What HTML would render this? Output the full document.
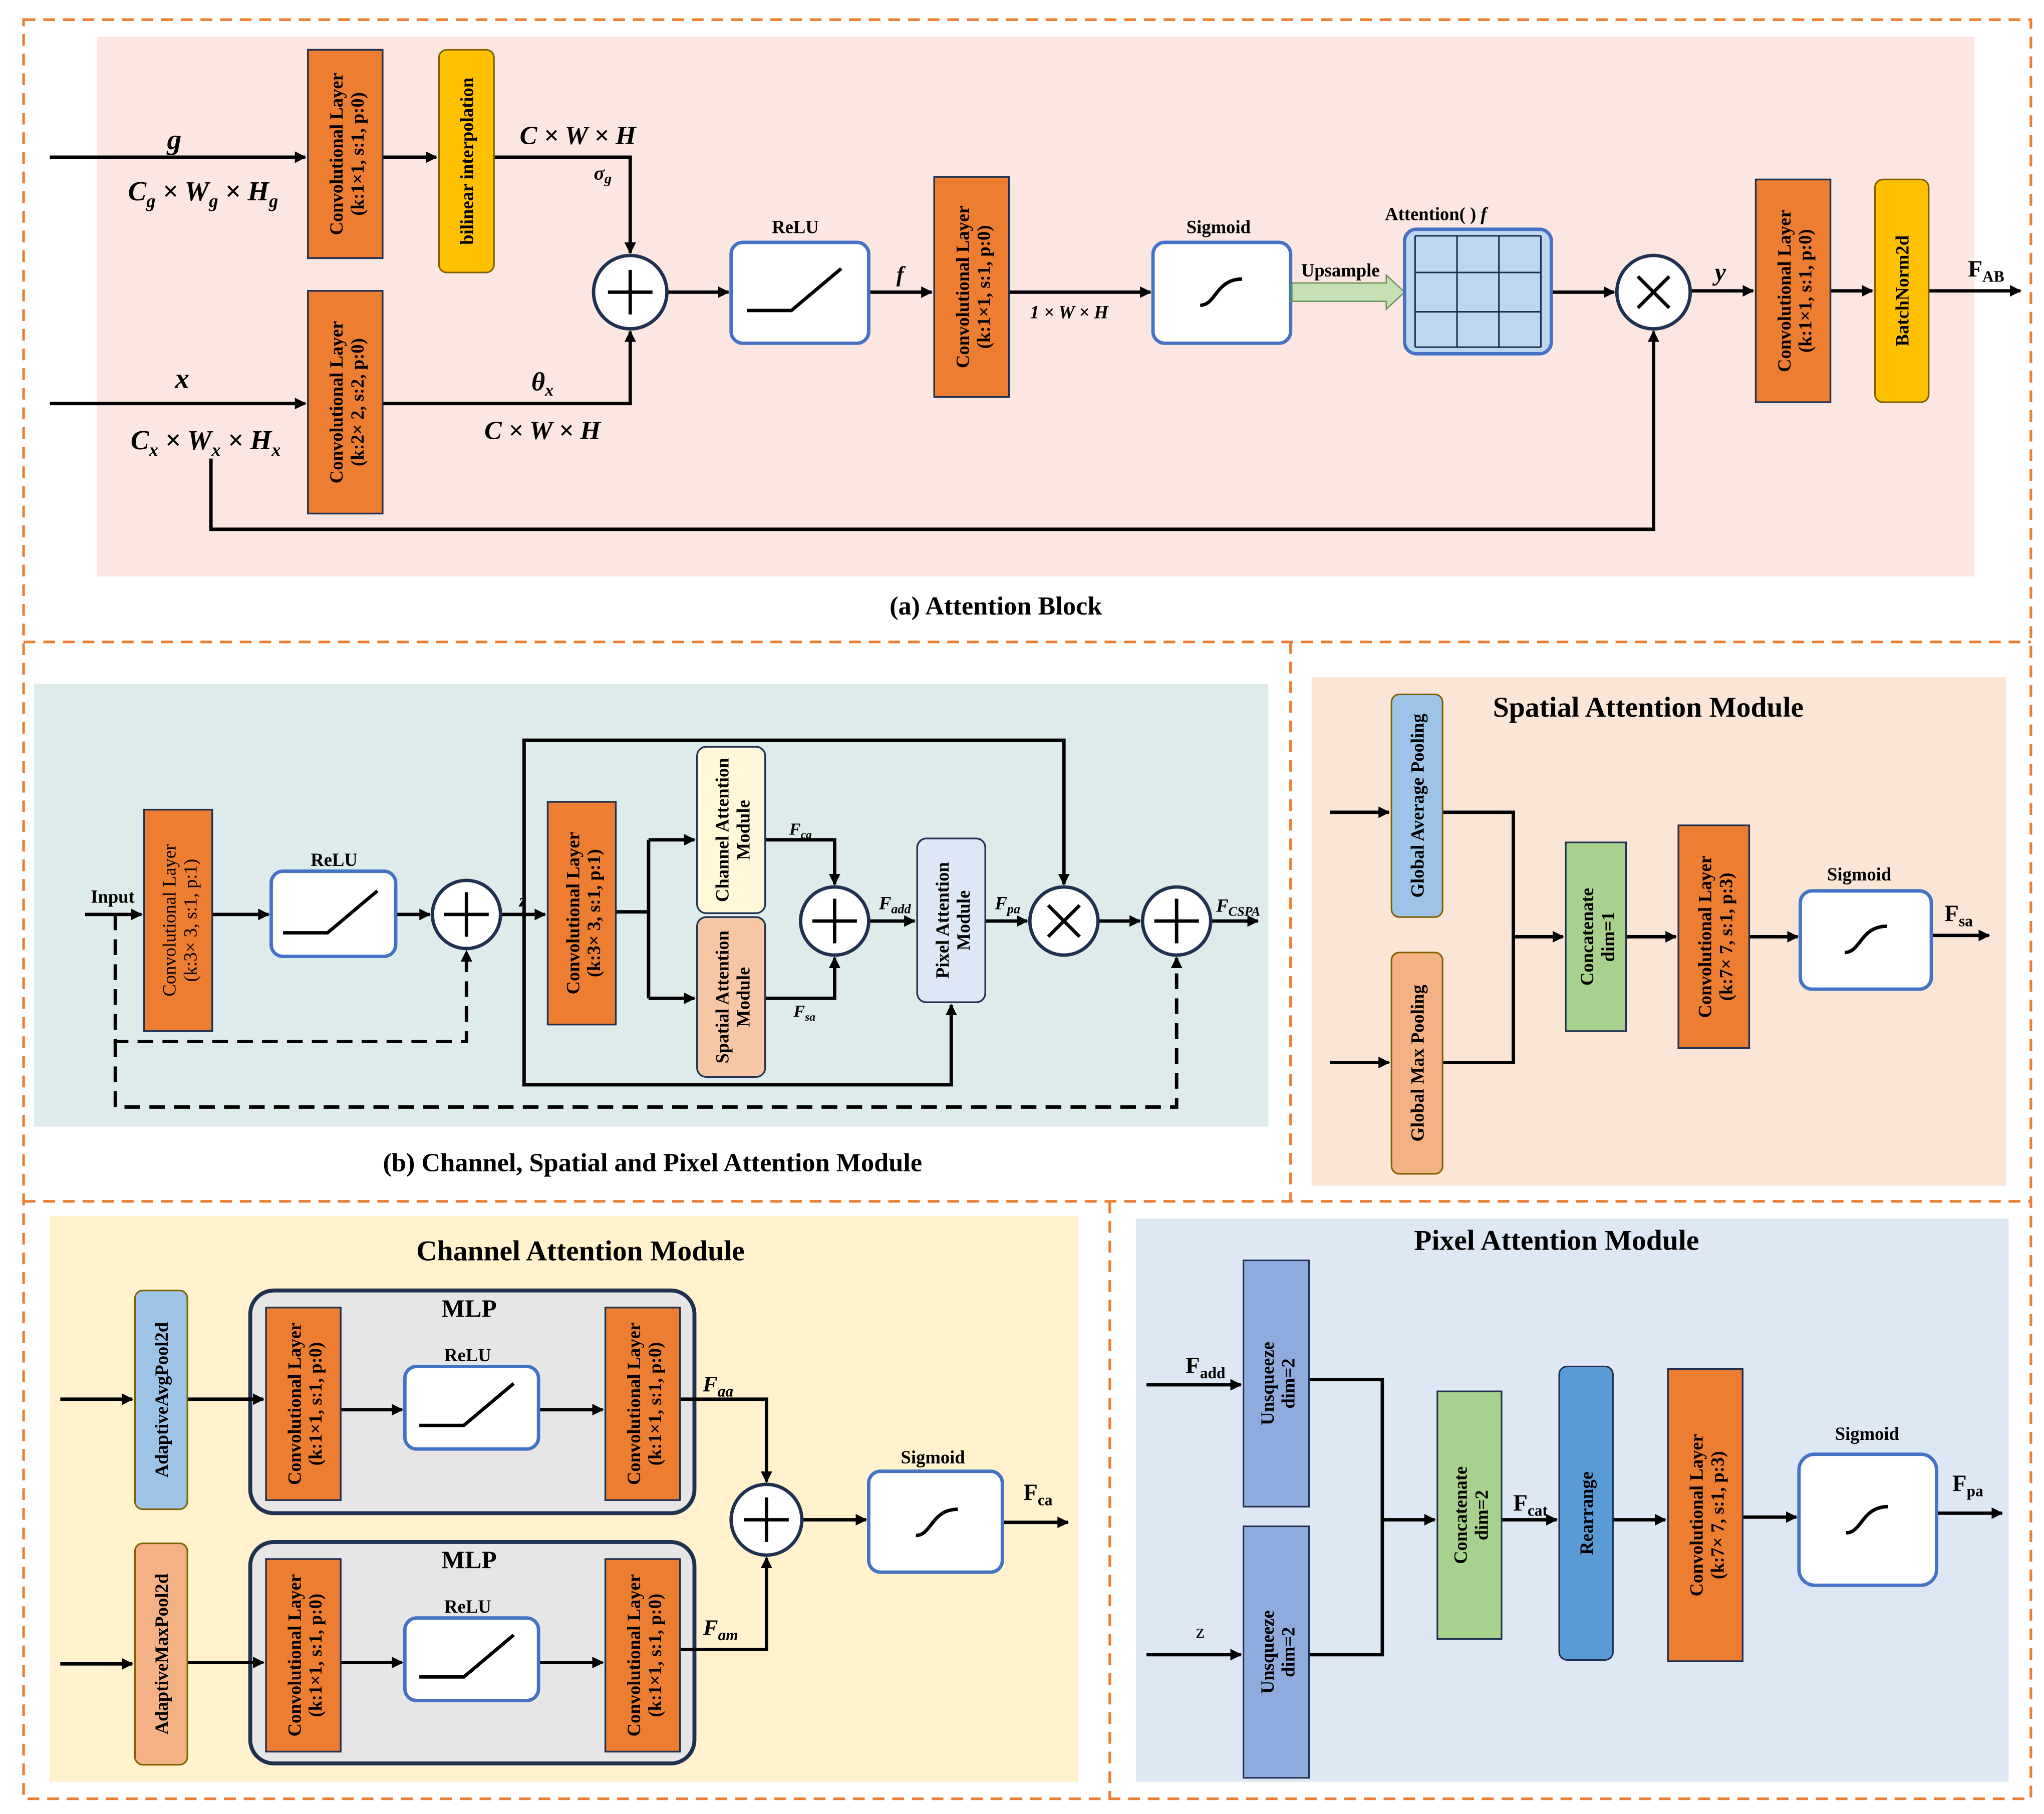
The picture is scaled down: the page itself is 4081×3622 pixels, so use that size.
<!DOCTYPE html>
<html><head><meta charset="utf-8"><style>
html,body{margin:0;padding:0;background:#fff}
svg{display:block}
text{font-family:"Liberation Serif",serif;font-weight:bold;fill:#000}
.bt{font-size:14px}
.it{font-style:italic}
.ln{stroke:#000;stroke-width:2.6;fill:none}
.dl{stroke:#000;stroke-width:2.6;fill:none;stroke-dasharray:12 7}
.or{fill:#ed7d31;stroke:#1f3050;stroke-width:1.3}
.bx{fill:#fff;stroke:#4472c4;stroke-width:2.6}
.cir{fill:#fff;stroke:#1f3050;stroke-width:2.6}
.od{fill:none;stroke:#ed7d31;stroke-width:2;stroke-dasharray:9 6}
</style></head><body>
<svg width="4081" height="3622" viewBox="0 0 1560 1384.6" preserveAspectRatio="none" xmlns="http://www.w3.org/2000/svg">
<defs>
<marker id="a" viewBox="0 0 10 10" refX="9" refY="5" markerWidth="3.4" markerHeight="3.4" orient="auto"><path d="M0,0 L10,5 L0,10 z" fill="#000"/></marker>
<g id="sig"><path d="M-16,10 C-4,10 -4,-10 16,-10" fill="none" stroke="#000" stroke-width="2.6"/></g>
<g id="relu"><path d="M-42,12 L-8,12 L30,-20" fill="none" stroke="#000" stroke-width="2.6"/></g>
<g id="plus"><path d="M-17,0 H17 M0,-17 V17" stroke="#000" stroke-width="2.6"/></g>
<g id="times"><path d="M-12,-12 L12,12 M12,-12 L-12,12" stroke="#000" stroke-width="2.6"/></g>
</defs>

<rect class="od" x="18" y="15" width="1532" height="1358"/>
<line class="od" x1="18" y1="490" x2="1550" y2="490"/>
<line class="od" x1="18" y1="917" x2="1550" y2="917"/>
<line class="od" x1="985" y1="490" x2="985" y2="917"/>
<line class="od" x1="847" y1="917" x2="847" y2="1373"/>

<!-- ===== (a) ===== -->
<rect x="74" y="28" width="1433" height="412" fill="#fbe6e1"/>
<text x="760" y="469" font-size="20" text-anchor="middle">(a) Attention Block</text>

<path class="ln" d="M38,120 H233" marker-end="url(#a)"/>
<path class="ln" d="M292,120 H333" marker-end="url(#a)"/>
<path class="ln" d="M377,120 H481 V193" marker-end="url(#a)"/>
<path class="ln" d="M38,308 H233" marker-end="url(#a)"/>
<path class="ln" d="M292,308 H481 V253" marker-end="url(#a)"/>
<path class="ln" d="M161,350 V404 H1262 V253" marker-end="url(#a)"/>
<path class="ln" d="M509,223 H556" marker-end="url(#a)"/>
<path class="ln" d="M663,223 H711" marker-end="url(#a)"/>
<path class="ln" d="M770,223 H878" marker-end="url(#a)"/>
<path class="ln" d="M1184,223 H1232" marker-end="url(#a)"/>
<path class="ln" d="M1290,222 H1338" marker-end="url(#a)"/>
<path class="ln" d="M1397,222 H1429" marker-end="url(#a)"/>
<path class="ln" d="M1472,222 H1542" marker-end="url(#a)"/>

<rect class="or" x="235" y="38" width="57" height="159"/>
<text class="bt" transform="translate(263.5,117.5) rotate(-90)" text-anchor="middle"><tspan x="0" dy="-2">Convolutional Layer</tspan><tspan x="0" dy="16">(k:1×1, s:1, p:0)</tspan></text>
<rect x="335" y="38" width="42" height="170" rx="6" fill="#ffc000" stroke="#7f6000" stroke-width="1.2"/>
<text class="bt" transform="translate(356,123) rotate(-90)" text-anchor="middle" dy="5">bilinear interpolation</text>
<rect class="or" x="235" y="222" width="57" height="170"/>
<text class="bt" transform="translate(263.5,307) rotate(-90)" text-anchor="middle"><tspan x="0" dy="-2">Convolutional Layer</tspan><tspan x="0" dy="16">(k:2× 2, s:2, p:0)</tspan></text>

<circle class="cir" cx="481" cy="223" r="28"/><use href="#plus" x="481" y="223"/>
<rect class="bx" x="558" y="185" width="105" height="77" rx="9"/><use href="#relu" x="612" y="225"/>
<text x="607" y="178" font-size="14" text-anchor="middle">ReLU</text>
<rect class="or" x="713" y="135" width="57" height="168"/>
<text class="bt" transform="translate(741.5,219) rotate(-90)" text-anchor="middle"><tspan x="0" dy="-2">Convolutional Layer</tspan><tspan x="0" dy="16">(k:1×1, s:1, p:0)</tspan></text>
<rect class="bx" x="880" y="185" width="105" height="77" rx="9"/><use href="#sig" x="932" y="223"/>
<text x="930" y="178" font-size="14" text-anchor="middle">Sigmoid</text>
<path d="M986,216 H1058 V210 L1072,223 L1058,236 V230 H986 z" fill="#c5e0b4" stroke="#6a8f5a" stroke-width="1"/>
<text x="1023" y="211" font-size="14" text-anchor="middle">Upsample</text>
<rect x="1072" y="175" width="112" height="95" rx="9" fill="#bdd7ee" stroke="#4472c4" stroke-width="2.6"/>
<path d="M1080,208 H1176 M1080,238 H1176 M1112,180 V265 M1144,180 V265 M1080,180 V265 M1176,180 V265 M1080,180 H1176 M1080,265 H1176" stroke="#1f3050" stroke-width="1.2" fill="none"/>
<text x="1057" y="168" font-size="14">Attention( ) <tspan class="it">f</tspan></text>
<circle class="cir" cx="1262" cy="223" r="28"/><use href="#times" x="1262" y="223"/>
<rect class="or" x="1340" y="137" width="57" height="170"/>
<text class="bt" transform="translate(1368.5,222) rotate(-90)" text-anchor="middle"><tspan x="0" dy="-2">Convolutional Layer</tspan><tspan x="0" dy="16">(k:1×1, s:1, p:0)</tspan></text>
<rect x="1431" y="137" width="41" height="170" rx="6" fill="#ffc000" stroke="#7f6000" stroke-width="1.2"/>
<text class="bt" transform="translate(1451.5,222) rotate(-90)" text-anchor="middle" dy="5">BatchNorm2d</text>

<text x="133" y="114" font-size="22" class="it" text-anchor="middle">g</text>
<text x="155" y="153" font-size="21" class="it" text-anchor="middle">C<tspan font-size="14" dy="5">g</tspan><tspan dy="-5"> × W</tspan><tspan font-size="14" dy="5">g</tspan><tspan dy="-5"> × H</tspan><tspan font-size="14" dy="5">g</tspan></text>
<text x="139" y="296" font-size="22" class="it" text-anchor="middle">x</text>
<text x="157" y="343" font-size="21" class="it" text-anchor="middle">C<tspan font-size="14" dy="5">x</tspan><tspan dy="-5"> × W</tspan><tspan font-size="14" dy="5">x</tspan><tspan dy="-5"> × H</tspan><tspan font-size="14" dy="5">x</tspan></text>
<text x="441" y="110" font-size="20" class="it" text-anchor="middle">C × W × H</text>
<text x="460" y="137" font-size="15" class="it" text-anchor="middle">σ<tspan font-size="11" dy="3">g</tspan></text>
<text x="414" y="298" font-size="20" class="it" text-anchor="middle">θ<tspan font-size="13" dy="4">x</tspan></text>
<text x="414" y="335" font-size="20" class="it" text-anchor="middle">C × W × H</text>
<text x="687" y="215" font-size="17" class="it" text-anchor="middle">f</text>
<text x="816" y="243" font-size="14" class="it" text-anchor="middle">1 × W × H</text>
<text x="1313" y="214" font-size="19" class="it" text-anchor="middle">y</text>
<text x="1502" y="211" font-size="18">F<tspan font-size="12" dy="4">AB</tspan></text>

<!-- ===== (b) ===== -->
<rect x="26" y="522" width="942" height="338" fill="#deebeb"/>
<text x="498" y="894" font-size="20" text-anchor="middle">(b) Channel, Spatial and Pixel Attention Module</text>

<path class="ln" d="M65,698 H108" marker-end="url(#a)"/>
<path class="ln" d="M162,698 H205" marker-end="url(#a)"/>
<path class="ln" d="M302,698 H328" marker-end="url(#a)"/>
<path class="ln" d="M382,698 H416" marker-end="url(#a)"/>
<path class="ln" d="M470,696 H495 M495,641 V762"/>
<path class="ln" d="M495,641 H530" marker-end="url(#a)"/>
<path class="ln" d="M495,762 H530" marker-end="url(#a)"/>
<path class="ln" d="M584,641 H637 V675" marker-end="url(#a)"/>
<path class="ln" d="M584,762 H637 V731" marker-end="url(#a)"/>
<path class="ln" d="M663,703 H698" marker-end="url(#a)"/>
<path class="ln" d="M752,703 H784" marker-end="url(#a)"/>
<path class="ln" d="M838,703 H870" marker-end="url(#a)"/>
<path class="ln" d="M924,703 H960" marker-end="url(#a)"/>
<path class="ln" d="M400,698 V565 H812 V675" marker-end="url(#a)"/>
<path class="ln" d="M400,698 V828 H726 V767" marker-end="url(#a)"/>
<path class="dl" d="M88,698 V795 H356 V726" marker-end="url(#a)"/>
<path class="dl" d="M88,795 V845 H898 V731" marker-end="url(#a)"/>

<text x="86" y="689" font-size="14" text-anchor="middle">Input</text>
<rect class="or" x="110" y="618" width="52" height="169"/>
<text class="bt" transform="translate(136,702.5) rotate(-90)" text-anchor="middle" style="font-weight:normal"><tspan x="0" dy="-2">Convolutional Layer</tspan><tspan x="0" dy="16">(k:3× 3, s:1, p:1)</tspan></text>
<rect class="bx" x="207" y="665" width="95" height="65" rx="9"/><use href="#relu" x="258" y="700"/>
<text x="255" y="661" font-size="14" text-anchor="middle">ReLU</text>
<circle class="cir" cx="356" cy="698" r="26"/><use href="#plus" x="356" y="698"/>
<text x="399" y="692" font-size="14" class="it" text-anchor="middle">z</text>
<rect class="or" x="418" y="612" width="52" height="170"/>
<text class="bt" transform="translate(444,697) rotate(-90)" text-anchor="middle"><tspan x="0" dy="-2">Convolutional Layer</tspan><tspan x="0" dy="16">(k:3× 3, s:1, p:1)</tspan></text>
<rect x="532" y="570" width="52" height="127" rx="7" fill="#fff8d9" stroke="#1f3050" stroke-width="1.3"/>
<text class="bt" transform="translate(558,633.5) rotate(-90)" text-anchor="middle"><tspan x="0" dy="-2">Channel Attention</tspan><tspan x="0" dy="16">Module</tspan></text>
<rect x="532" y="700" width="52" height="122" rx="7" fill="#f7c7a5" stroke="#1f3050" stroke-width="1.3"/>
<text class="bt" transform="translate(558,761) rotate(-90)" text-anchor="middle"><tspan x="0" dy="-2">Spatial Attention</tspan><tspan x="0" dy="16">Module</tspan></text>
<text x="611" y="637" font-size="13" class="it" text-anchor="middle">F<tspan font-size="9" dy="3">ca</tspan></text>
<text x="614" y="776" font-size="13" class="it" text-anchor="middle">F<tspan font-size="9" dy="3">sa</tspan></text>
<circle class="cir" cx="637" cy="703" r="26"/><use href="#plus" x="637" y="703"/>
<text x="683" y="694" font-size="14" class="it" text-anchor="middle">F<tspan font-size="10" dy="3">add</tspan></text>
<rect x="700" y="640" width="52" height="125" rx="7" fill="#dde7f5" stroke="#1f3050" stroke-width="1.3"/>
<text class="bt" transform="translate(726,702.5) rotate(-90)" text-anchor="middle"><tspan x="0" dy="-2">Pixel Attention</tspan><tspan x="0" dy="16">Module</tspan></text>
<text x="769" y="694" font-size="14" class="it" text-anchor="middle">F<tspan font-size="10" dy="3">pa</tspan></text>
<circle class="cir" cx="812" cy="703" r="26"/><use href="#times" x="812" y="703"/>
<circle class="cir" cx="898" cy="703" r="26"/><use href="#plus" x="898" y="703"/>
<text x="945" y="696" font-size="14" class="it" text-anchor="middle">F<tspan font-size="10" dy="3">CSPA</tspan></text>

<!-- ===== Spatial Attention ===== -->
<rect x="1001" y="517" width="530" height="388" fill="#fbe5d6"/>
<text x="1258" y="547" font-size="22" text-anchor="middle">Spatial Attention Module</text>
<path class="ln" d="M1015,620 H1060" marker-end="url(#a)"/>
<path class="ln" d="M1015,811 H1060" marker-end="url(#a)"/>
<path class="ln" d="M1101,620 H1155 V811 H1101"/>
<path class="ln" d="M1155,715 H1193" marker-end="url(#a)"/>
<path class="ln" d="M1241,715 H1279" marker-end="url(#a)"/>
<path class="ln" d="M1335,715 H1372" marker-end="url(#a)"/>
<path class="ln" d="M1474,714 H1518" marker-end="url(#a)"/>
<rect x="1062" y="530" width="39" height="170" rx="6" fill="#9dc3e6" stroke="#7f6000" stroke-width="1.2"/>
<text class="bt" transform="translate(1081.5,615) rotate(-90)" text-anchor="middle" dy="5">Global Average Pooling</text>
<rect x="1062" y="727" width="39" height="169" rx="6" fill="#f4b183" stroke="#7f6000" stroke-width="1.2"/>
<text class="bt" transform="translate(1081.5,811.5) rotate(-90)" text-anchor="middle" dy="5">Global Max Pooling</text>
<rect x="1195" y="643" width="46" height="144" fill="#a9d18e" stroke="#1f3050" stroke-width="1.2"/>
<text class="bt" transform="translate(1218,715) rotate(-90)" text-anchor="middle"><tspan x="0" dy="-2">Concatenate</tspan><tspan x="0" dy="16">dim=1</tspan></text>
<rect class="or" x="1281" y="630" width="54" height="170"/>
<text class="bt" transform="translate(1308,715) rotate(-90)" text-anchor="middle"><tspan x="0" dy="-2">Convolutional Layer</tspan><tspan x="0" dy="16">(k:7× 7, s:1, p:3)</tspan></text>
<rect class="bx" x="1374" y="680" width="100" height="75" rx="9"/><use href="#sig" x="1424" y="717"/>
<text x="1419" y="672" font-size="14" text-anchor="middle">Sigmoid</text>
<text x="1484" y="703" font-size="18">F<tspan font-size="12" dy="4">sa</tspan></text>

<!-- ===== Channel Attention ===== -->
<rect x="38" y="928" width="785" height="432" fill="#fff2cc"/>
<text x="443" y="962" font-size="22" text-anchor="middle">Channel Attention Module</text>
<rect x="191" y="985" width="339" height="170" rx="18" fill="#e6e6e6" stroke="#1f3050" stroke-width="3"/>
<rect x="191" y="1177" width="339" height="169" rx="18" fill="#e6e6e6" stroke="#1f3050" stroke-width="3"/>
<text x="358" y="1005" font-size="19" text-anchor="middle">MLP</text>
<text x="358" y="1197" font-size="19" text-anchor="middle">MLP</text>
<path class="ln" d="M46,1068 H101" marker-end="url(#a)"/>
<path class="ln" d="M143,1068 H201" marker-end="url(#a)"/>
<path class="ln" d="M260,1076 H307" marker-end="url(#a)"/>
<path class="ln" d="M411,1076 H460" marker-end="url(#a)"/>
<path class="ln" d="M519,1068 H585 V1131" marker-end="url(#a)"/>
<path class="ln" d="M46,1270 H101" marker-end="url(#a)"/>
<path class="ln" d="M143,1269 H201" marker-end="url(#a)"/>
<path class="ln" d="M260,1269 H307" marker-end="url(#a)"/>
<path class="ln" d="M411,1269 H460" marker-end="url(#a)"/>
<path class="ln" d="M519,1259 H585 V1189" marker-end="url(#a)"/>
<path class="ln" d="M612,1160 H661" marker-end="url(#a)"/>
<path class="ln" d="M765,1162 H815" marker-end="url(#a)"/>
<rect x="103" y="985" width="40" height="167" rx="6" fill="#9dc3e6" stroke="#7f6000" stroke-width="1.2"/>
<text class="bt" transform="translate(123,1068.5) rotate(-90)" text-anchor="middle" dy="5">AdaptiveAvgPool2d</text>
<rect x="103" y="1178" width="40" height="169" rx="6" fill="#f4b183" stroke="#7f6000" stroke-width="1.2"/>
<text class="bt" transform="translate(123,1262.5) rotate(-90)" text-anchor="middle" dy="5">AdaptiveMaxPool2d</text>
<rect class="or" x="203" y="998" width="57" height="147"/>
<text class="bt" transform="translate(231.5,1071.5) rotate(-90)" text-anchor="middle"><tspan x="0" dy="-2">Convolutional Layer</tspan><tspan x="0" dy="16">(k:1×1, s:1, p:0)</tspan></text>
<rect class="or" x="462" y="998" width="57" height="147"/>
<text class="bt" transform="translate(490.5,1071.5) rotate(-90)" text-anchor="middle"><tspan x="0" dy="-2">Convolutional Layer</tspan><tspan x="0" dy="16">(k:1×1, s:1, p:0)</tspan></text>
<rect class="or" x="203" y="1190" width="57" height="147"/>
<text class="bt" transform="translate(231.5,1263.5) rotate(-90)" text-anchor="middle"><tspan x="0" dy="-2">Convolutional Layer</tspan><tspan x="0" dy="16">(k:1×1, s:1, p:0)</tspan></text>
<rect class="or" x="462" y="1190" width="57" height="147"/>
<text class="bt" transform="translate(490.5,1263.5) rotate(-90)" text-anchor="middle"><tspan x="0" dy="-2">Convolutional Layer</tspan><tspan x="0" dy="16">(k:1×1, s:1, p:0)</tspan></text>
<rect class="bx" x="309" y="1043" width="102" height="63" rx="9"/><use href="#relu" x="362" y="1076"/>
<text x="357" y="1039" font-size="14" text-anchor="middle">ReLU</text>
<rect class="bx" x="309" y="1235" width="102" height="63" rx="9"/><use href="#relu" x="362" y="1268"/>
<text x="357" y="1231" font-size="14" text-anchor="middle">ReLU</text>
<text x="548" y="1062" font-size="17" class="it" text-anchor="middle">F<tspan font-size="12" dy="4">aa</tspan></text>
<text x="550" y="1248" font-size="17" class="it" text-anchor="middle">F<tspan font-size="12" dy="4">am</tspan></text>
<circle class="cir" cx="585" cy="1160" r="27"/><use href="#plus" x="585" y="1160"/>
<rect class="bx" x="663" y="1123" width="102" height="77" rx="9"/><use href="#sig" x="715" y="1162"/>
<text x="712" y="1117" font-size="14" text-anchor="middle">Sigmoid</text>
<text x="781" y="1145" font-size="18">F<tspan font-size="12" dy="4">ca</tspan></text>

<!-- ===== Pixel Attention ===== -->
<rect x="867" y="930" width="666" height="430" fill="#dee8f5"/>
<text x="1188" y="954" font-size="22" text-anchor="middle">Pixel Attention Module</text>
<path class="ln" d="M875,1057 H947" marker-end="url(#a)"/>
<path class="ln" d="M875,1263 H947" marker-end="url(#a)"/>
<path class="ln" d="M999,1053 H1055 V1263 H999"/>
<path class="ln" d="M1055,1160 H1095" marker-end="url(#a)"/>
<path class="ln" d="M1146,1160 H1188" marker-end="url(#a)"/>
<path class="ln" d="M1231,1160 H1271" marker-end="url(#a)"/>
<path class="ln" d="M1330,1158 H1371" marker-end="url(#a)"/>
<path class="ln" d="M1478,1155 H1528" marker-end="url(#a)"/>
<text x="920" y="1048" font-size="18" text-anchor="middle">F<tspan font-size="12" dy="4">add</tspan></text>
<text x="916" y="1250" font-size="15" text-anchor="middle" style="font-weight:normal">z</text>
<rect x="949" y="962" width="50" height="188" fill="#8faadc" stroke="#1f3050" stroke-width="1.2"/>
<text class="bt" transform="translate(974,1056) rotate(-90)" text-anchor="middle"><tspan x="0" dy="-2">Unsqueeze</tspan><tspan x="0" dy="16">dim=2</tspan></text>
<rect x="949" y="1165" width="50" height="192" fill="#8faadc" stroke="#1f3050" stroke-width="1.2"/>
<text class="bt" transform="translate(974,1261) rotate(-90)" text-anchor="middle"><tspan x="0" dy="-2">Unsqueeze</tspan><tspan x="0" dy="16">dim=2</tspan></text>
<rect x="1097" y="1062" width="49" height="189" fill="#a9d18e" stroke="#1f3050" stroke-width="1.2"/>
<text class="bt" transform="translate(1121.5,1156.5) rotate(-90)" text-anchor="middle"><tspan x="0" dy="-2">Concatenate</tspan><tspan x="0" dy="16">dim=2</tspan></text>
<text x="1168" y="1153" font-size="18" text-anchor="middle">F<tspan font-size="12" dy="4">cat</tspan></text>
<rect x="1190" y="1043" width="41" height="224" rx="6" fill="#5b9bd5" stroke="#1f3050" stroke-width="1.2"/>
<text class="bt" transform="translate(1210.5,1155) rotate(-90)" text-anchor="middle" dy="5">Rearrange</text>
<rect class="or" x="1273" y="1045" width="57" height="223"/>
<text class="bt" transform="translate(1301.5,1156.5) rotate(-90)" text-anchor="middle"><tspan x="0" dy="-2">Convolutional Layer</tspan><tspan x="0" dy="16">(k:7× 7, s:1, p:3)</tspan></text>
<rect class="bx" x="1373" y="1110" width="105" height="100" rx="12"/><use href="#sig" x="1425" y="1160"/>
<text x="1425" y="1099" font-size="14" text-anchor="middle">Sigmoid</text>
<text x="1490" y="1138" font-size="18">F<tspan font-size="12" dy="4">pa</tspan></text>
</svg>
</body></html>
